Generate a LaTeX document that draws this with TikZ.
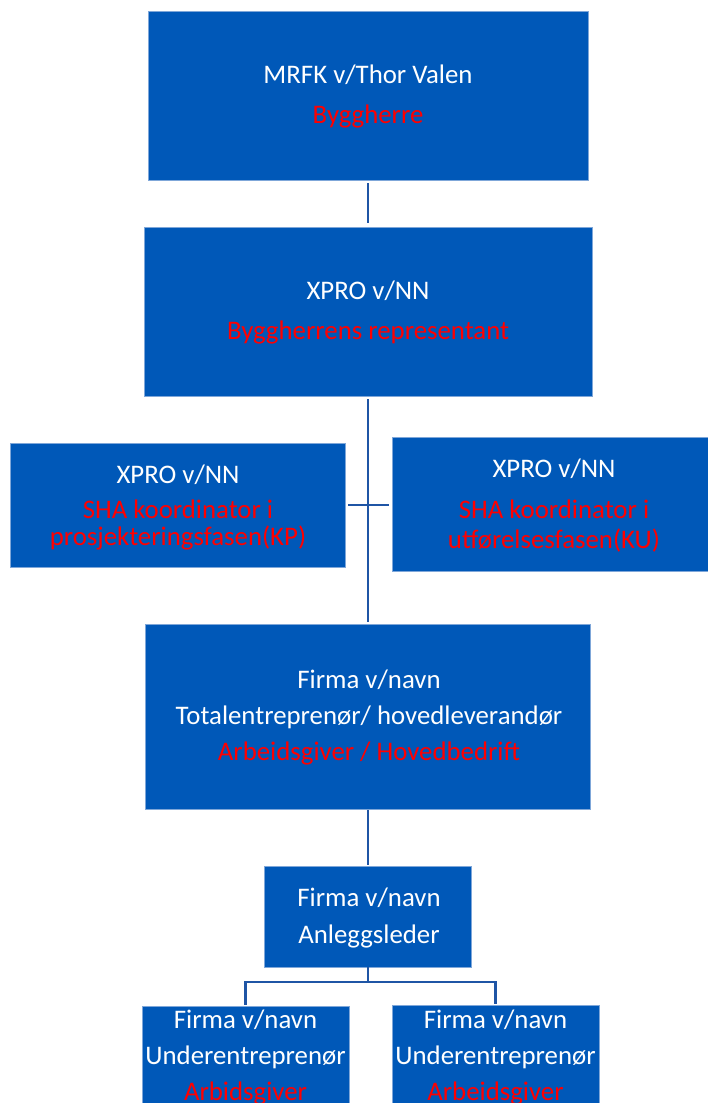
\documentclass[tikz,border=0pt]{standalone}
\usepackage{fontspec}
\setmainfont{Carlito}
\definecolor{boxblue}{HTML}{0058B8}
\definecolor{edgeblue}{HTML}{7FA7D9}
\definecolor{linkblue}{HTML}{1F55A5}
\definecolor{redtxt}{HTML}{FF0000}
\tikzset{
  orgbox/.style={draw=edgeblue, line width=0.8pt, fill=boxblue, inner sep=0pt, outer sep=0pt},
  wtxt/.style={anchor=base, inner sep=0pt, text=white, font=\fontsize{26.8}{30}\selectfont},
  rtxt/.style={wtxt, text=redtxt},
  link/.style={draw=linkblue, line width=2.8pt}
}
\begin{document}
\begin{tikzpicture}[x=1pt,y=-1pt]
\useasboundingbox (0,0) rectangle (708,1103);
\fill[white] (0,0) rectangle (708,1103);
% boxes
\node[orgbox, minimum width=440pt, minimum height=169pt] (b1) at (368,95.5) {};
\node[orgbox, minimum width=448pt, minimum height=169pt] (b2) at (368,311.5) {};
\node[orgbox, minimum width=335pt, minimum height=124pt] (sl) at (177.5,505) {};
\node[orgbox, minimum width=318pt, minimum height=134pt] (sr) at (551,504) {};
\node[orgbox, minimum width=445pt, minimum height=185pt] (b3) at (368,716.5) {};
\node[orgbox, minimum width=207pt, minimum height=101pt] (b4) at (368,916.5) {};
\node[orgbox, minimum width=207pt, minimum height=124pt] (u1) at (245.5,1068) {};
\node[orgbox, minimum width=207pt, minimum height=126pt] (u2) at (495.5,1068) {};
% texts
\node[wtxt] (t1a) at (368,83) {MRFK v/Thor Valen};
\node[rtxt] (t1b) at (368,123) {Byggherre};
\node[wtxt] (t2a) at (368,299) {XPRO v/NN};
\node[rtxt] (t2b) at (368,339) {Byggherrens representant};
\node[wtxt] (tla) at (178,483) {XPRO v/NN};
\node[rtxt] (tlb) at (178,518) {SHA koordinator i};
\node[rtxt] (tlc) at (178,545) {prosjekteringsfasen(KP)};
\node[wtxt] (tra) at (554,477) {XPRO v/NN};
\node[rtxt] (trb) at (554,518) {SHA koordinator i};
\node[rtxt] (trc) at (554,548) {utførelsesfasen(KU)};
\node[wtxt] (t3a) at (369,688) {Firma v/navn};
\node[wtxt] (t3b) at (369,724) {Totalentreprenør/ hovedleverandør};
\node[rtxt] (t3c) at (369,760) {Arbeidsgiver / Hovedbedrift};
\node[wtxt] (t4a) at (369,906) {Firma v/navn};
\node[wtxt] (t4b) at (369,943) {Anleggsleder};
\node[wtxt] (u1a) at (245.5,1028) {Firma v/navn};
\node[wtxt] (u1b) at (245.5,1064) {Underentreprenør};
\node[rtxt] (u1c) at (245.5,1100) {Arbidsgiver};
\node[wtxt] (u2a) at (495.5,1028) {Firma v/navn};
\node[wtxt] (u2b) at (495.5,1064) {Underentreprenør};
\node[rtxt] (u2c) at (495.5,1100) {Arbeidsgiver};
% connectors
\draw[link, shorten <=3pt, shorten >=4pt] (b1.south) -- (b2.north);
\draw[link, shorten <=3pt, shorten >=2pt] (b2.south) -- (b3.north);
\draw[link, shorten <=3pt, shorten >=3pt] (sl.east) -- (sl.east -| sr.west);
\draw[link, shorten <=1pt, shorten >=1pt] (b3.south) -- (b4.north);
\draw[link, shorten >=1pt] (b4.south) -- ++(0,15) coordinate (j) -| (u1.north);
\draw[link, shorten >=1pt] (j) -| (u2.north);
\end{tikzpicture}
\end{document}
